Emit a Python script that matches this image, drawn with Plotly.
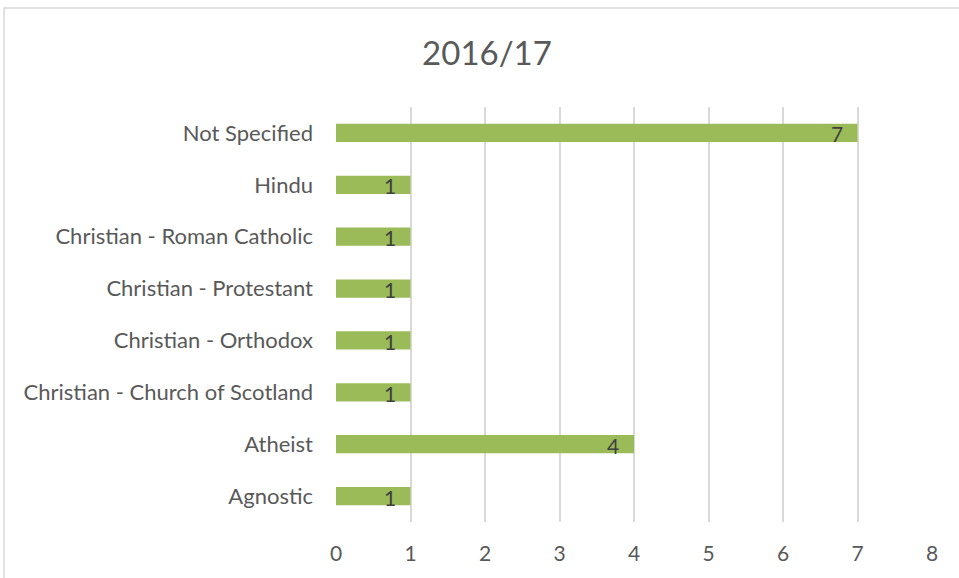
import plotly.graph_objects as go

# Religion / belief counts for 2016/17 (bottom to top)
categories = [
    "Agnostic",
    "Atheist",
    "Christian - Church of Scotland",
    "Christian - Orthodox",
    "Christian - Protestant",
    "Christian - Roman Catholic",
    "Hindu",
    "Not Specified",
]
counts = [1, 4, 1, 1, 1, 1, 1, 7]
x_ticks = [0, 1, 2, 3, 4, 5, 6, 7, 8]

W, H = 959, 578
ml, mr, mt, mb = 336, 27, 107, 56
pw, ph = W - ml - mr, H - mt - mb

def px_x(p):
    return (p - ml) / pw

def px_y(p):
    return 1 - (p - mt) / ph

FONT = "Lato, Open Sans, sans-serif"
TEXT = "#595959"

fig = go.Figure(
    go.Bar(
        x=counts,
        y=categories,
        orientation="h",
        width=0.35,
        marker=dict(color="#9BBB59", line=dict(width=0)),
        hoverinfo="x+y",
    )
)

# value labels just inside the end of each bar
annotations = [
    dict(
        x=v,
        y=c,
        xref="x",
        yref="y",
        text=str(v),
        showarrow=False,
        xanchor="right",
        yanchor="middle",
        xshift=-13,
        yshift=-1,
        font=dict(family=FONT, size=21, color="#404040"),
    )
    for c, v in zip(categories, counts)
]

fig.update_layout(
    width=W,
    height=H,
    margin=dict(l=ml, r=mr, t=mt, b=mb),
    paper_bgcolor="white",
    plot_bgcolor="white",
    showlegend=False,
    title=dict(
        text="2016/17",
        xref="paper",
        x=px_x(487),
        xanchor="center",
        y=1 - 53 / H,
        yanchor="middle",
        font=dict(family=FONT, size=33, color=TEXT),
    ),
    xaxis=dict(
        range=[0, 8],
        tickvals=x_ticks,
        showgrid=True,
        gridcolor="#D9D9D9",
        gridwidth=1.5,
        zeroline=False,
        showline=False,
        ticks="",
        ticklabelstandoff=17,
        tickfont=dict(family=FONT, size=21, color=TEXT),
    ),
    yaxis=dict(
        showgrid=False,
        zeroline=False,
        showline=False,
        ticks="",
        ticklabelstandoff=22,
        tickfont=dict(family=FONT, size=22, color=TEXT),
    ),
    annotations=annotations,
    shapes=[
        dict(
            type="rect",
            xref="paper",
            yref="paper",
            x0=px_x(4),
            x1=px_x(W + 5),
            y0=px_y(H + 5),
            y1=px_y(8),
            line=dict(color="#D9D9D9", width=1.5),
            fillcolor="rgba(0,0,0,0)",
            layer="below",
        )
    ],
)

fig.write_html("out.html")
